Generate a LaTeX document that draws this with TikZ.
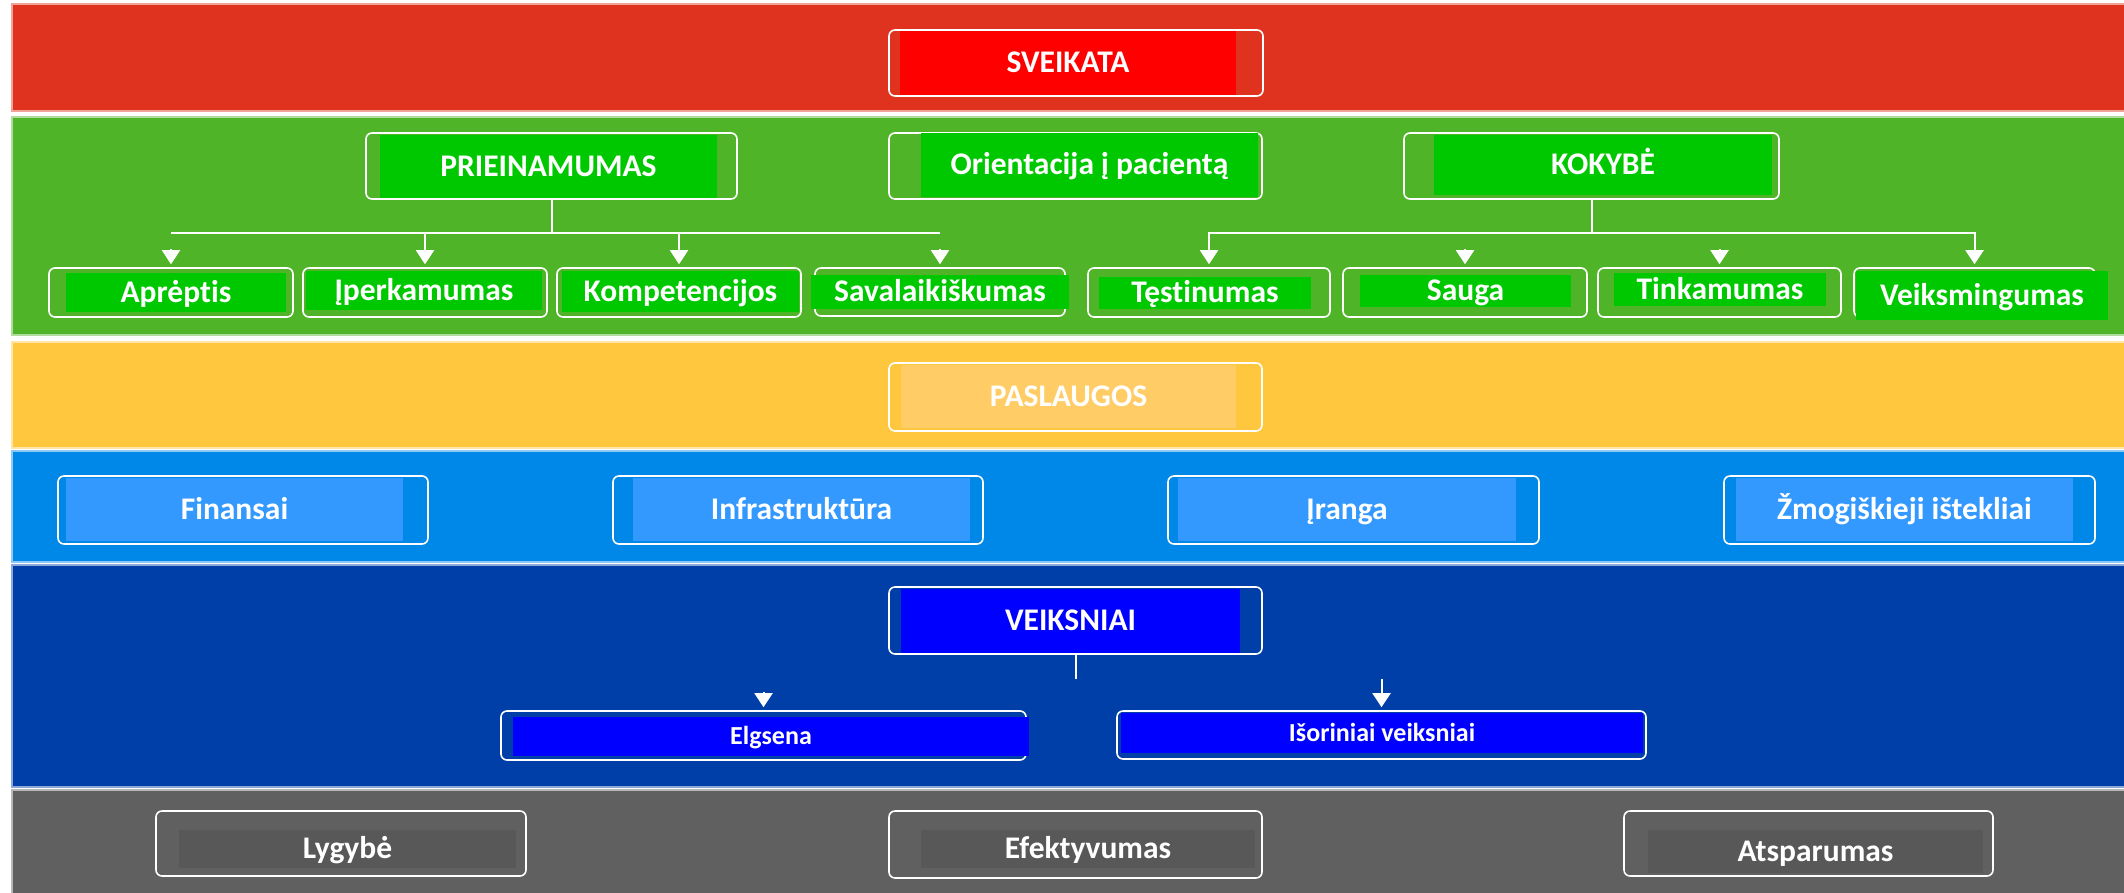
\documentclass[tikz,border=0pt]{standalone}
\usepackage{fontspec}
\setmainfont{Carlito}[Ligatures=NoCommon]
\usetikzlibrary{arrows.meta}
\definecolor{bRed}{HTML}{E0331F}
\definecolor{bGreen}{HTML}{50B428}
\definecolor{bYellow}{HTML}{FFC73E}
\definecolor{bLBlue}{HTML}{0088E8}
\definecolor{bDBlue}{HTML}{003EA8}
\definecolor{bGray}{HTML}{606060}
\definecolor{fRed}{HTML}{FF0000}
\definecolor{fGreen}{HTML}{00C800}
\definecolor{fYellow}{HTML}{FFCC66}
\definecolor{fLBlue}{HTML}{3399FF}
\definecolor{fDBlue}{HTML}{0000FF}
\definecolor{fGray}{HTML}{585858}
\newcommand\olbox[5]{\node[olb, minimum width={#4-#2}, minimum height={#5-#3}] (#1) at ({(#2+#4)/2},{(#3+#5)/2}) {};}
\newcommand\flbox[8]{\node[#7, fill=#6, minimum width={#4-#2}, minimum height={#5-#3}] (#1) at ({(#2+#4)/2},{(#3+#5)/2}) {#8};}
\begin{document}
\begin{tikzpicture}[x=1pt,y=-1pt,
  band/.style={fill=#1, draw=#1!45!white, line width=1.5pt},
  olb/.style={draw=white, line width=1.6pt, rounded corners=6pt, inner sep=0pt},
  big/.style={inner sep=0pt, text=white, font=\fontsize{31.5}{37}\selectfont\bfseries, text height=19.8pt, text depth=0pt},
  small/.style={big, font=\fontsize{26}{31}\selectfont\bfseries, text height=16.4pt},
  cn/.style={draw=white, line width=2pt},
  ar/.style={cn, -{Triangle[width=18pt,length=14pt]}, shorten >=3pt}
]
\useasboundingbox (0,0) rectangle (2124,892);
\fill[white] (0,0) rectangle (2124,892);
% bands
\path[band=bRed]    (12,4)   rectangle (2140,111);
\path[band=bGreen]  (12,117) rectangle (2140,335);
\path[band=bYellow] (12,342) rectangle (2140,448);
\path[band=bLBlue]  (12,451) rectangle (2140,562);
\path[band=bDBlue]  (12,565) rectangle (2140,787);
\path[band=bGray]   (12,790) rectangle (2140,900);
% SVEIKATA
\olbox{sO}{889}{30}{1263}{96}
\flbox{s}{900}{31}{1236}{95}{fRed}{big}{SVEIKATA}
% green top row
\olbox{pO}{366}{133}{737}{199}
\flbox{p}{380}{135}{717}{198}{fGreen}{big}{PRIEINAMUMAS}
\olbox{oO}{889}{133}{1262}{199}
\flbox{o}{921}{133}{1258}{197}{fGreen}{big}{Orientacija į pacientą}
\olbox{kO}{1404}{133}{1779}{199}
\flbox{k}{1434}{135}{1772}{195}{fGreen}{big}{KOKYBĖ}
% green bottom row
\olbox{c1O}{49}{268}{293}{317}
\flbox{c1}{66}{273}{286}{312}{fGreen}{big}{Aprėptis}
\olbox{c2O}{303}{268}{547}{317}
\flbox{c2}{306}{271}{542}{310}{fGreen}{big}{Įperkamumas}
\olbox{c3O}{557}{268}{801}{317}
\flbox{c3}{562}{271}{799}{312}{fGreen}{big}{Kompetencijos}
\olbox{c4O}{815}{268}{1065}{316}
\flbox{c4}{811}{275}{1069}{309}{fGreen}{big}{Savalaikiškumas}
\olbox{c5O}{1088}{268}{1330}{317}
\flbox{c5}{1099}{277}{1311}{309}{fGreen}{big}{Tęstinumas}
\olbox{c6O}{1343}{268}{1587}{317}
\flbox{c6}{1360}{275}{1571}{307}{fGreen}{big}{Sauga}
\olbox{c7O}{1598}{268}{1841}{317}
\flbox{c7}{1614}{273}{1826}{306}{fGreen}{big}{Tinkamumas}
\olbox{c8O}{1854}{268}{2095}{317}
\flbox{c8}{1856}{271}{2108}{320}{fGreen}{big}{Veiksmingumas}
% yellow
\olbox{yO}{889}{363}{1262}{431}
\flbox{y}{901}{365}{1236}{428}{fYellow}{big}{PASLAUGOS}
% light blue
\olbox{b1O}{58}{476}{428}{544}
\flbox{b1}{66}{478}{403}{541}{fLBlue}{big}{Finansai}
\olbox{b2O}{613}{476}{983}{544}
\flbox{b2}{633}{478}{970}{541}{fLBlue}{big}{Infrastruktūra}
\olbox{b3O}{1168}{476}{1539}{544}
\flbox{b3}{1178}{478}{1516}{541}{fLBlue}{big}{Įranga}
\olbox{b4O}{1724}{476}{2095}{544}
\flbox{b4}{1736}{478}{2073}{541}{fLBlue}{big}{Žmogiškieji ištekliai}
% dark blue
\olbox{vO}{889}{587}{1262}{654}
\flbox{v}{901}{589}{1240}{653}{fDBlue}{big}{VEIKSNIAI}
\olbox{eO}{501}{711}{1026}{760}
\flbox{e}{513}{717}{1029}{756}{fDBlue}{small}{Elgsena}
\olbox{iO}{1117}{711}{1646}{759}
\flbox{i}{1121}{713}{1643}{753}{fDBlue}{small}{Išoriniai veiksniai}
% gray
\olbox{g1O}{156}{811}{526}{876}
\flbox{g1}{179}{830}{516}{868}{fGray}{big}{Lygybė}
\olbox{g2O}{889}{811}{1262}{878}
\flbox{g2}{921}{830}{1255}{868}{fGray}{big}{Efektyvumas}
\olbox{g3O}{1624}{811}{1993}{876}
\flbox{g3}{1648}{830}{1983}{873}{fGray}{big}{Atsparumas}
% connectors
\coordinate (pbar) at (0,233);
\coordinate (gapY) at (0,249);
\draw[cn] (pO.south) -- (pO.south |- pbar);
\draw[cn] (c1O.north |- pbar) -- (c4O.north |- pbar);
\draw[ar] (c1O.north |- gapY) -- (c1O.north);
\draw[ar] (c2O.north |- pbar) -- (c2O.north);
\draw[ar] (c3O.north |- pbar) -- (c3O.north);
\draw[ar] (c4O.north |- gapY) -- (c4O.north);
\draw[cn] (kO.south) -- (kO.south |- pbar);
\draw[ar] (kO.south |- pbar) -| (c5O.north);
\draw[ar] (kO.south |- pbar) -| (c8O.north);
\draw[ar] (c6O.north |- gapY) -- (c6O.north);
\draw[ar] (c7O.north |- gapY) -- (c7O.north);
\coordinate (vbar) at (0,679);
\coordinate (egap) at (0,692);
\draw[cn] (vO.south) -- (vO.south |- vbar);
\draw[ar] (iO.north |- vbar) -- (iO.north);
\draw[ar] (eO.north |- egap) -- (eO.north);
\end{tikzpicture}
\end{document}
